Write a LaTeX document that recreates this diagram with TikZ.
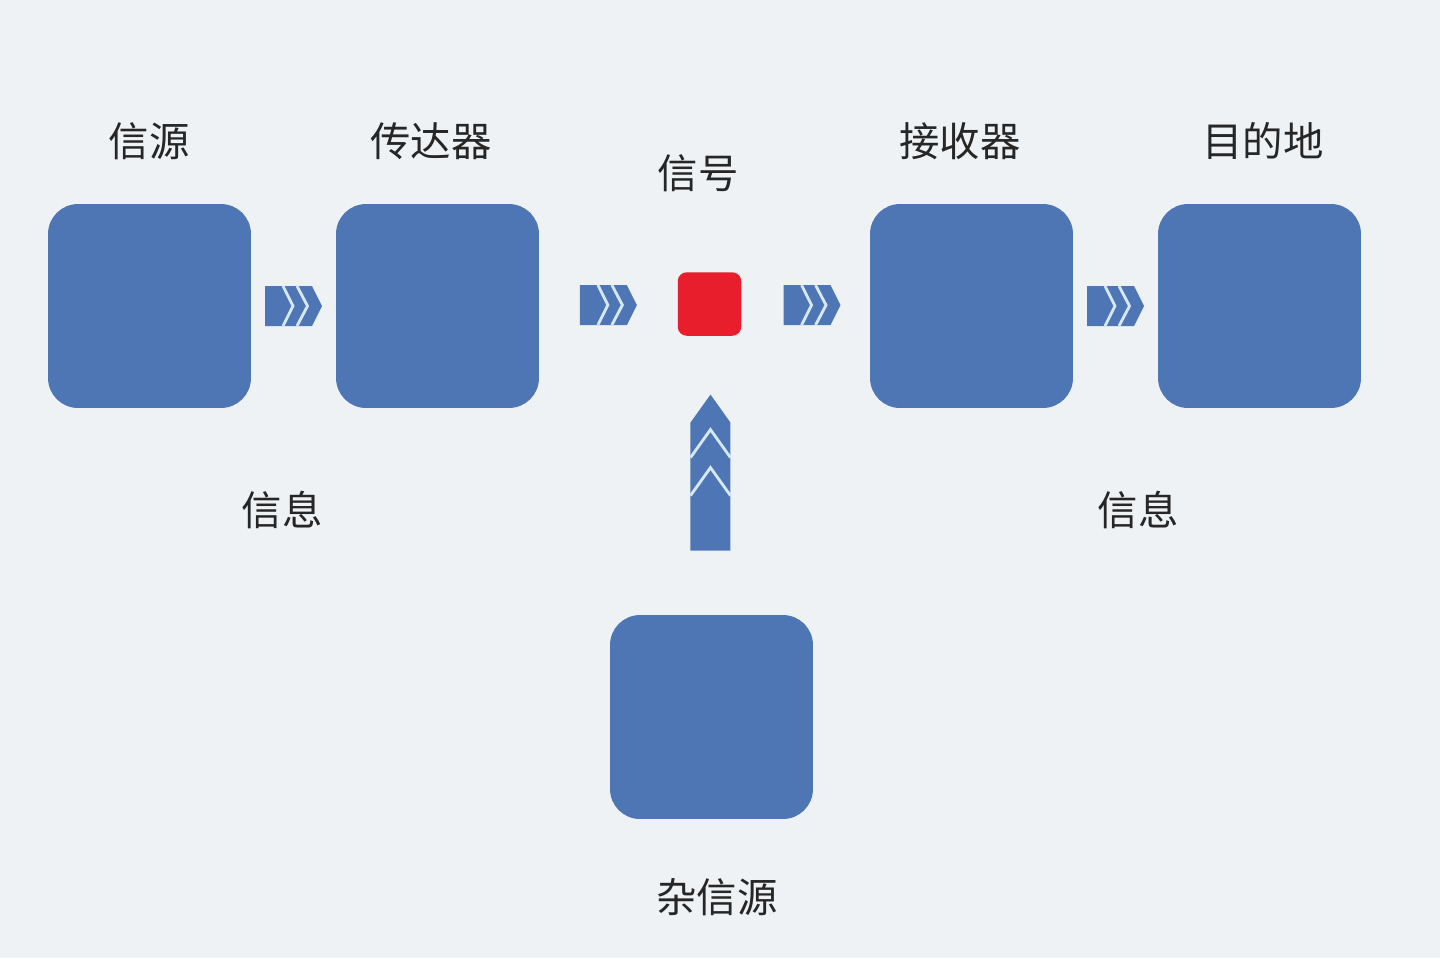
\documentclass[tikz,border=0pt]{standalone}
\usepackage{fontspec}
\usepackage{xcolor}
\usepackage{tikz}
\usetikzlibrary{positioning, calc}
\newfontfamily\cjk{Noto Sans CJK SC}
\definecolor{boxblue}{RGB}{79,118,180}
\definecolor{sigred}{RGB}{232,30,45}
\definecolor{bgcol}{RGB}{239,242,245}
\definecolor{chevline}{RGB}{214,232,245}

\tikzset{
  block/.style={fill=boxblue, rounded corners=0.6cm, minimum width=4.06cm, minimum height=4.08cm, inner sep=0pt},
  sigbox/.style={fill=sigred, rounded corners=0.18cm, minimum size=1.27cm, inner sep=0pt},
  lbl/.style={font=\cjk\fontsize{23}{28}\selectfont, text=black!85, inner sep=0pt},
  harrow/.pic={
    \fill[boxblue] (-28.5,-20) -- (18.5,-20) -- (28.5,0) -- (18.5,20) -- (-28.5,20) -- cycle;
    \draw[chevline, line width=1.6pt] (-10.5,-20) -- (-0.5,0) -- (-10.5,20);
    \draw[chevline, line width=1.6pt] (3.5,-20) -- (14,0) -- (3.5,20);
  },
  varrow/.pic={
    \fill[boxblue] (0,-78) -- (20,-50) -- (20,78) -- (-20,78) -- (-20,-50) -- cycle;
    \draw[chevline, line width=1.6pt] (-20,-15) -- (0,-43) -- (20,-15);
    \draw[chevline, line width=1.6pt] (-20,23) -- (0,-5) -- (20,23);
  }
}

\begin{document}
\begin{tikzpicture}[x=0.02cm, y=-0.02cm]
  % Background
  \fill[bgcol] (0,0) rectangle (1440,958);
  \useasboundingbox (0,0) rectangle (1440,958);

  % Boxes
  \node[block] (src) at (149.5,306) {};
  \node[block] (trans) at (437.5,306) {};
  \node[sigbox] (sig) at (709.5,304) {};
  \node[block] (recv) at (971.5,306) {};
  \node[block] (dest) at (1259.5,306) {};
  \node[block] (noise) at (711.5,717) {};

  % Labels
  \node[lbl] (srclbl) at (149,141) {信源};
  \node[lbl] (translbl) at (431,141) {传达器};
  \node[lbl] (siglbl) at (698,173) {信号};
  \node[lbl] (recvlbl) at (960,141) {接收器};
  \node[lbl] (destlbl) at (1263,141) {目的地};
  \node[lbl] (msgin) at (282,510) {信息};
  \node[lbl] (msgout) at (1138,510) {信息};
  \node[lbl] (noiselbl) at (717,897) {杂信源};

  % Arrows
  \pic at ($(src.east)!0.5!(trans.west)$) {harrow};
  \pic at ($(trans.east)!0.5!(sig.west)$) {harrow};
  \pic at ($(sig.east)!0.55!(recv.west)$) {harrow};
  \pic at ($(recv.east)!0.5!(dest.west)$) {harrow};
  \pic at ($(sig.south)!0.49!(noise.north)$) {varrow};
\end{tikzpicture}
\end{document}
